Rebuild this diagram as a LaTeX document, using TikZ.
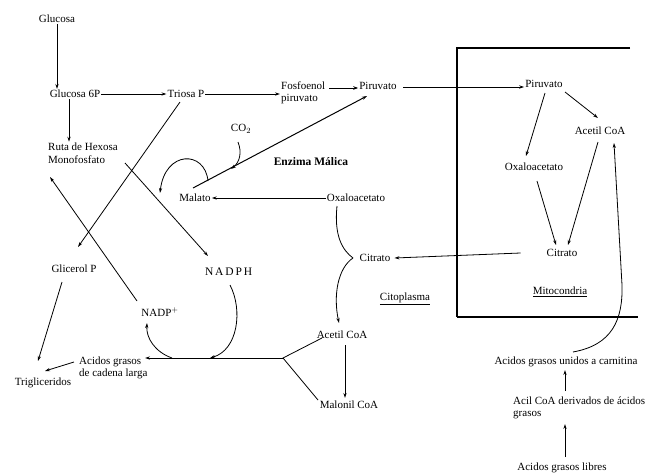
\documentclass[tikz,border=0pt]{standalone}
\usepackage{fontspec}
\setmainfont{Liberation Serif}
\usetikzlibrary{arrows.meta,calc}
\begin{document}
\begin{tikzpicture}[x=1pt,y=-1pt,
  lbl/.style={inner sep=1pt,font=\fontsize{11}{12.5}\selectfont},
  ln/.style={line width=0.8pt},
  arr/.style={line width=0.8pt,-{Stealth[length=5pt,width=3.2pt]}},
  boxln/.style={line width=1.1pt}]
\useasboundingbox (0,0) rectangle (654,474);
% nodes
\node[lbl] (glu) at (57,19) {Glucosa};
\node[lbl] (g6p) at (75,94) {Glucosa 6P};
\node[lbl] (tri) at (186,94) {Triosa P};
\node[lbl,align=left,anchor=west] (fos) at (280,93) {Fosfoenol\\piruvato};
\node[lbl] (pir1) at (378,86) {Piruvato};
\node[lbl] (pir2) at (544,84) {Piruvato};
\node[lbl] (acm) at (600,131) {Acetil CoA};
\node[lbl] (oxm) at (534,167) {Oxaloacetato};
\node[lbl] (citm) at (562,253) {Citrato};
\node[lbl] (mito) at (560,292) {\underline{Mitocondria}};
\node[lbl] (citc) at (375,258) {Citrato};
\node[lbl] (citop) at (405,299) {\underline{Citoplasma}};
\node[lbl] (oxc) at (356,198) {Oxaloacetato};
\node[lbl] (mal) at (195,198) {Malato};
\node[lbl] (co2) at (241,129) {CO$_2$};
\node[lbl,font=\fontsize{11.5}{13}\selectfont\bfseries] (enz) at (311,162) {Enzima Málica};
\node[lbl,align=left,anchor=west] (ruta) at (47,153) {Ruta de Hexosa\\Monofosfato};
\node[lbl] (glic) at (74,269) {Glicerol P};
\node[lbl,font=\fontsize{11.5}{13}\selectfont,text width=46pt,align=center] (nadph) at (228,272) {N\,A\,D\,P\,H};
\node[lbl] (nadp) at (160,312) {NADP$^{+}$};
\node[lbl,align=left,anchor=west] (ag) at (78,368) {Acidos grasos\\de cadena larga};
\node[lbl] (trig) at (43,383) {Trigliceridos};
\node[lbl] (acc) at (342,335) {Acetil CoA};
\node[lbl] (malc) at (349,405) {Malonil CoA};
\node[lbl] (agc) at (566,362) {Acidos grasos unidos a carnitina};
\node[lbl,align=left,anchor=west] (acil) at (512,408) {Acil CoA derivados de ácidos\\grasos};
\node[lbl] (agl) at (562,468) {Acidos grasos libres};
% coordinates
\coordinate (jn) at (283,358);
\coordinate (bxtl) at (457,48);
\coordinate (bxtr) at (630,48);
\coordinate (bxbl) at (457,317);
\coordinate (bxbr) at (638,317);
% mitochondrion box
\draw[boxln] (bxtr) -- (bxtl) -- (bxbl);
\draw[line width=1.6pt] (bxbl) -- (bxbr);
% main path
\draw[arr] (glu.south) -- (glu.south |- g6p.north);
\draw[arr] (g6p.east) -- (tri.west);
\draw[arr] ([xshift=-6pt]g6p.south) -- ([xshift=-6pt]g6p.south |- ruta.north);
\draw[arr] (tri.east) -- (fos.west |- tri.east);
\draw[line width=1pt,-{Stealth[length=5pt,width=3.6pt]}] (329,88) -- (pir1.west |- 329,88);
\draw[arr] (403,87) -- (pir2.west |- 403,87);
% mitochondria
\draw[arr] (565,92) -- (598,118);
\draw[arr] (545,93) -- (526,156);
\draw[arr] (537,181) -- (556,245);
\draw[arr] (598,142) -- (568,245);
\draw[arr] (573,352) .. controls (612,345) and (623,320) .. (622,285) -- (614,143);
\draw[arr] ([xshift=-25pt]citm.west) -- ([xshift=3pt]citc.east);
\draw[arr] (565,457) -- (565,424);
\draw[arr] (565,391) -- (565,370);
% cytoplasm
\draw[arr,line width=1pt] (oxc.west) -- (mal.east);
\draw[ln] (337,206) .. controls (334,235) and (342,250) .. (353,258);
\draw[arr] (353,258) .. controls (338,268) and (333,295) .. (339,323);
\draw[arr] (345,345) -- (345,398);
\draw[ln] (322,338) -- (jn) -- (318,400);
\draw[arr,line width=1pt] (jn) -- (145,358);
\draw[arr] (230,285) .. controls (243,310) and (238,350) .. (210,358);
\draw[arr] (172,358) .. controls (155,352) and (146,338) .. (147,323);
\draw[arr] (62,282) -- (38,361);
\draw[arr] (74,362) -- (45,371);
% crossing lines
\draw[arr] (180,102) -- (78,247);
\draw[arr] (137,301) -- (50,177);
\draw[arr] (125,163) -- (208,256);
% malic enzyme
\draw[arr,line width=1pt] (193,188) -- (367,96);
\draw[arr] (208,181) .. controls (205,150) and (165,150) .. (160,193);
\draw[arr] (238,142) .. controls (242,152) and (240,162) .. (231,169);
\end{tikzpicture}
\end{document}
